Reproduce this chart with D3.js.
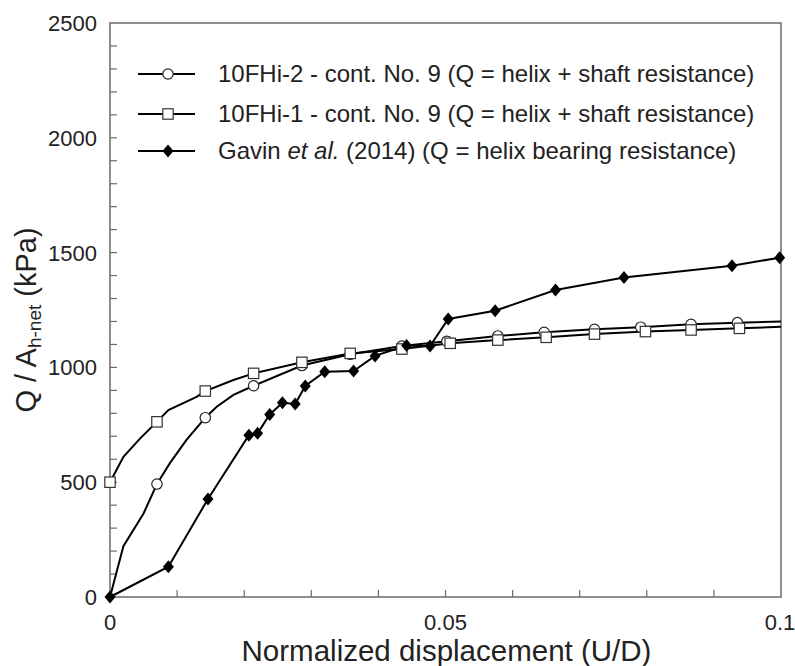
<!DOCTYPE html>
<html><head><meta charset="utf-8">
<script src="https://cdn.jsdelivr.net/npm/d3@7"></script>
<style>body{margin:0;background:#fff}svg{display:block}text{font-family:"Liberation Sans",Arial,sans-serif;fill:#222}</style>
</head><body><svg id="c" width="795" height="666"></svg>
<script>
// Series 1: 10FHi-2 (circles)
const s2X = [0, 0.0020, 0.0050, 0.0070, 0.0089, 0.0114, 0.0142, 0.0159, 0.0184, 0.0214, 0.0286, 0.0358, 0.0435, 0.0502, 0.0578, 0.0647, 0.0722, 0.0791, 0.0866, 0.0935, 0.1000];
const s2Y = [0, 221, 364, 492, 582, 684, 781, 829, 880, 920, 1008, 1057, 1093, 1114, 1137, 1153, 1166, 1175, 1188, 1195, 1200];
const s2M = [0,0,0,1,0,0,1,0,0,1,1,1,1,1,1,1,1,1,1,1,0];
// Series 2: 10FHi-1 (squares)
const s1X = [0, 0.0020, 0.0045, 0.0070, 0.0087, 0.0129, 0.0142, 0.0184, 0.0214, 0.0286, 0.0358, 0.0435, 0.0507, 0.0578, 0.0650, 0.0722, 0.0798, 0.0866, 0.0938, 0.1000];
const s1Y = [500, 611, 691, 763, 814, 872, 897, 945, 974, 1022, 1061, 1080, 1105, 1119, 1131, 1145, 1156, 1163, 1170, 1177];
const s1M = [1,0,0,1,0,0,1,0,1,1,1,1,1,1,1,1,1,1,1,0];
// Series 3: Gavin et al. (2014) (diamonds)
const gX = [0, 0.0087, 0.0146, 0.0207, 0.0220, 0.0238, 0.0257, 0.0276, 0.0291, 0.0320, 0.0363, 0.0395, 0.0442, 0.0477, 0.0504, 0.0574, 0.0664, 0.0766, 0.0927, 0.0998];
const gY = [0, 132, 427, 705, 713, 795, 846, 841, 919, 981, 984, 1050, 1095, 1093, 1211, 1247, 1337, 1392, 1443, 1478];
const xTicks = [0, 0.05, 0.1];
const xTickLabels = ["0", "0.05", "0.1"];
const yTicks = [0, 500, 1000, 1500, 2000, 2500];
const legendLabels = ["10FHi-2 - cont. No. 9 (Q = helix + shaft resistance)", "10FHi-1 - cont. No. 9 (Q = helix + shaft resistance)", "Gavin et al. (2014) (Q = helix bearing resistance)"];

const svg = d3.select("#c");
const L = 110, R = 781, T = 23, B = 597;
const x = d3.scaleLinear().domain([0, 0.1]).range([L, R]);
const y = d3.scaleLinear().domain([0, 2500]).range([B, T]);
const axisCol = "#6a6a6a";

// minor ticks (inward)
const g = svg.append("g");
g.selectAll(".xt").data(d3.range(1, 10).map(i => i / 100)).enter().append("line")
  .attr("x1", d => x(d)).attr("x2", d => x(d)).attr("y1", B).attr("y2", B - 7)
  .attr("stroke", axisCol).attr("stroke-width", 1.2);
g.selectAll(".yt").data(d3.range(1, 25).map(i => i * 100)).enter().append("line")
  .attr("x1", L).attr("x2", L + 7).attr("y1", d => y(d)).attr("y2", d => y(d))
  .attr("stroke", axisCol).attr("stroke-width", 1.2);
// frame
svg.append("rect").attr("x", L).attr("y", T).attr("width", R - L).attr("height", B - T)
  .attr("fill", "none").attr("stroke", axisCol).attr("stroke-width", 1.5);

// tick labels
svg.selectAll(".xl").data(xTicks).enter().append("text")
  .attr("x", (d, i) => x(d) + (i === 2 ? -1 : 0)).attr("y", 630).attr("text-anchor", "middle")
  .attr("font-size", 22).text((d, i) => xTickLabels[i]);
svg.selectAll(".yl").data(yTicks).enter().append("text")
  .attr("x", L - 13).attr("y", d => y(d) + 8).attr("text-anchor", "end")
  .attr("font-size", 22).text(d => d);

// axis titles
svg.append("text").attr("x", (L + R) / 2 + 1).attr("y", 661).attr("text-anchor", "middle")
  .attr("font-size", 29.5).text("Normalized displacement (U/D)");
const yt = svg.append("text").attr("transform", `translate(36,320) rotate(-90)`)
  .attr("text-anchor", "middle").attr("font-size", 29);
yt.append("tspan").text("Q / A");
yt.append("tspan").attr("font-size", 19).attr("dy", 5).text("h-net");
yt.append("tspan").attr("dy", -5).text(" (kPa)");

const line = d3.line().x(d => x(d[0])).y(d => y(d[1]));
const series = [
  {xs: s2X, ys: s2Y, m: s2M, type: "circle"},
  {xs: s1X, ys: s1Y, m: s1M, type: "square"},
  {xs: gX, ys: gY, m: gX.map(() => 1), type: "diamond"}
];
function marker(sel, type, cx, cy) {
  if (type === "circle") sel.append("circle").attr("cx", cx).attr("cy", cy).attr("r", 5.2)
    .attr("fill", "#fff").attr("stroke", "#222").attr("stroke-width", 1.2);
  else if (type === "square") sel.append("rect").attr("x", cx - 5.2).attr("y", cy - 5.2)
    .attr("width", 10.4).attr("height", 10.4).attr("fill", "#fff").attr("stroke", "#333").attr("stroke-width", 1.2);
  else sel.append("path").attr("d", `M${cx},${cy - 6.5}L${cx + 5.5},${cy}L${cx},${cy + 6.5}L${cx - 5.5},${cy}Z`)
    .attr("fill", "#000");
}
series.forEach(s => {
  const pts = s.xs.map((v, i) => [v, s.ys[i]]);
  svg.append("path").attr("d", line(pts)).attr("fill", "none").attr("stroke", "#000").attr("stroke-width", 2);
});
series.forEach(s => {
  const mg = svg.append("g");
  s.xs.forEach((v, i) => { if (s.m[i]) marker(mg, s.type, x(v), y(s.ys[i])); });
});

// legend
const legY = [74, 114, 151];
series.forEach((s, i) => {
  svg.append("line").attr("x1", 138).attr("x2", 195).attr("y1", legY[i]).attr("y2", legY[i])
    .attr("stroke", "#000").attr("stroke-width", 2);
  marker(svg, s.type, 168, legY[i]);
});
svg.append("text").attr("x", 218).attr("y", legY[0] + 8).attr("font-size", 24).text(legendLabels[0]);
svg.append("text").attr("x", 218).attr("y", legY[1] + 8).attr("font-size", 24).text(legendLabels[1]);
const t3 = svg.append("text").attr("x", 218).attr("y", legY[2] + 8).attr("font-size", 24);
t3.append("tspan").text("Gavin ");
t3.append("tspan").attr("font-style", "italic").text("et al.");
t3.append("tspan").text(" (2014) (Q = helix bearing resistance)");
</script></body></html>
